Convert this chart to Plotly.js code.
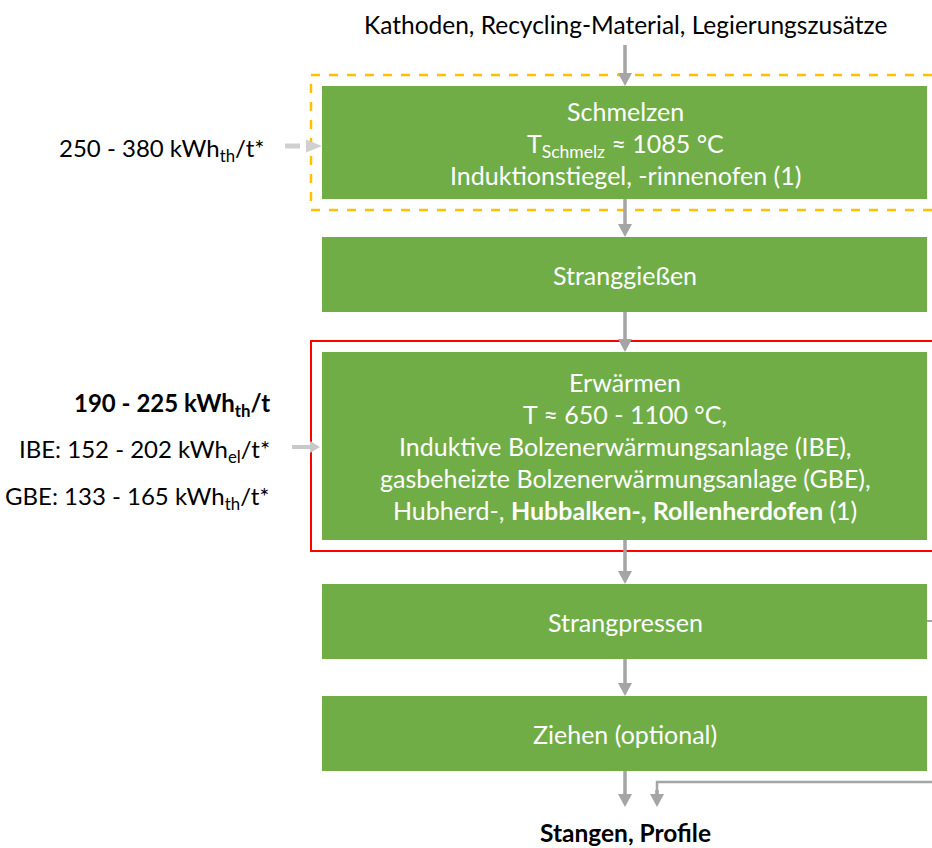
<!DOCTYPE html>
<html><head><meta charset="utf-8">
<script src="https://cdn.plot.ly/plotly-3.0.1.min.js"></script>
<style>html,body{margin:0;padding:0;background:#fff}</style>
</head><body>
<div id="chart" style="width:932px;height:848px"></div>
<script>
// ---- content ----
const inputLabel = "Kathoden, Recycling-Material, Legierungszusätze";
const outputLabel = "<b>Stangen, Profile</b>";
const stepLines = [
  ["Schmelzen", "T<sub>Schmelz</sub> ≈ 1085 °C", "Induktionstiegel, -rinnenofen (1)"],
  ["Stranggießen"],
  ["Erwärmen", "T ≈ 650 - 1100 °C,", "Induktive Bolzenerwärmungsanlage (IBE),",
   "gasbeheizte Bolzenerwärmungsanlage (GBE),", "Hubherd-, <b>Hubbalken-, Rollenherdofen</b> (1)"],
  ["Strangpressen"],
  ["Ziehen (optional)"]
];
const energyMelt = ["250 - 380 kWh<sub>th</sub>/t*"];
const energyHeat = ["<b>190 - 225 kWh<sub>th</sub>/t</b>", "IBE: 152 - 202 kWh<sub>el</sub>/t*", "GBE: 133 - 165 kWh<sub>th</sub>/t*"];

// ---- layout geometry ----
const FONT = "Lato, 'Open Sans', sans-serif";
const boxX0 = 322, boxX1 = 927, cx = 625;
const boxY = [[86,199],[237,312],[352,540],[584,659],[696,771]];
const lineGap = 32;
const GREEN = "#70AD47", GRAY = "#A5A5A5";

const shapes = [];
const annotations = [];

function arrowDown(x, y0, y1, color, w, hw, hl) {
  shapes.push({type:"line", xref:"x", yref:"y", x0:x, x1:x, y0:y0, y1:y1-hl+1,
    line:{color:color, width:w}});
  shapes.push({type:"path", xref:"x", yref:"y",
    path:`M ${x-hw/2} ${y1-hl} L ${x+hw/2} ${y1-hl} L ${x} ${y1} Z`,
    fillcolor:color, line:{width:0}});
}
function arrowRight(y, x0, x1, color, w, hw, hl, dash) {
  shapes.push({type:"line", xref:"x", yref:"y", x0:x0, x1:x1-hl+1, y0:y, y1:y,
    line:{color:color, width:w, dash:dash||"solid"}});
  shapes.push({type:"path", xref:"x", yref:"y",
    path:`M ${x1-hl} ${y-hw/2} L ${x1-hl} ${y+hw/2} L ${x1} ${y} Z`,
    fillcolor:color, line:{width:0}});
}

// highlight frames
shapes.push({type:"rect", xref:"x", yref:"y", x0:311, x1:950, y0:75, y1:210,
  line:{color:"#FFC000", width:2.5, dash:"dash"}, fillcolor:"rgba(0,0,0,0)"});
shapes.push({type:"rect", xref:"x", yref:"y", x0:311, x1:950, y0:341, y1:551,
  line:{color:"#FF0000", width:2}, fillcolor:"rgba(0,0,0,0)"});

// process boxes
stepLines.forEach((lines, i) => {
  const [y0, y1] = boxY[i];
  shapes.push({type:"rect", xref:"x", yref:"y", x0:boxX0, x1:boxX1, y0:y0, y1:y1,
    fillcolor:GREEN, line:{width:0}, layer:"below"});
  const mid = (y0 + y1) / 2;
  const start = mid - (lines.length - 1) * lineGap / 2;
  lines.forEach((t, j) => {
    annotations.push({xref:"x", yref:"y", x:cx, y:start + j*lineGap + (t.includes("<sub>") ? 2 : 0),
      text:t, showarrow:false, xanchor:"center", yanchor:"middle",
      font:{family:FONT, size:25, color:"#FFFFFF"}});
  });
});

// vertical flow arrows
arrowDown(cx, 45, 86, GRAY, 3.5, 14, 13);
for (let i = 0; i < boxY.length - 1; i++) arrowDown(cx, boxY[i][1], boxY[i+1][0], GRAY, 3.5, 14, 13);
arrowDown(cx, boxY[4][1], 807, GRAY, 3.5, 14, 13);
// bypass from Strangpressen to output
shapes.push({type:"line", xref:"x", yref:"y", x0:boxX1, x1:940, y0:621, y1:621, line:{color:GRAY, width:2}});
shapes.push({type:"path", xref:"x", yref:"y", path:"M 940 782 L 657 782 L 657 795",
  line:{color:GRAY, width:2.5}});
arrowDown(657, 790, 807, GRAY, 3.5, 14, 13);

// energy input arrows
arrowRight(146, 285, 322, "#D0D0D0", 5, 13, 16, "dash");
arrowRight(447, 292, 320, "#C8C8C8", 4, 12, 10);

// texts
annotations.push({xref:"x", yref:"y", x:cx, y:24, text:inputLabel, showarrow:false,
  xanchor:"center", yanchor:"middle", font:{family:FONT, size:24.5, color:"#000"}});
annotations.push({xref:"x", yref:"y", x:cx, y:848, text:outputLabel, showarrow:false,
  xanchor:"center", yanchor:"bottom", borderpad:0, font:{family:FONT, size:24.5, color:"#000"}});
energyMelt.forEach((t, j) => annotations.push({xref:"x", yref:"y", x:266, y:149, text:t,
  showarrow:false, xanchor:"right", yanchor:"middle", font:{family:FONT, size:24, color:"#000"}}));
const heatY = [404, 450, 497];
energyHeat.forEach((t, j) => annotations.push({xref:"x", yref:"y", x:272, y:heatY[j], text:t,
  showarrow:false, xanchor:"right", yanchor:"middle", font:{family:FONT, size:24, color:"#000"}}));

const layout = {
  width:932, height:848, margin:{l:0, r:0, t:0, b:0},
  paper_bgcolor:"#fff", plot_bgcolor:"#fff",
  xaxis:{range:[0,932], visible:false, fixedrange:true},
  yaxis:{range:[848,0], visible:false, fixedrange:true},
  shapes:shapes, annotations:annotations, showlegend:false
};
Plotly.newPlot("chart", [{x:[0], y:[0], mode:"markers", marker:{opacity:0}, hoverinfo:"skip"}], layout,
  {staticPlot:true, displayModeBar:false});
</script>
</body></html>
